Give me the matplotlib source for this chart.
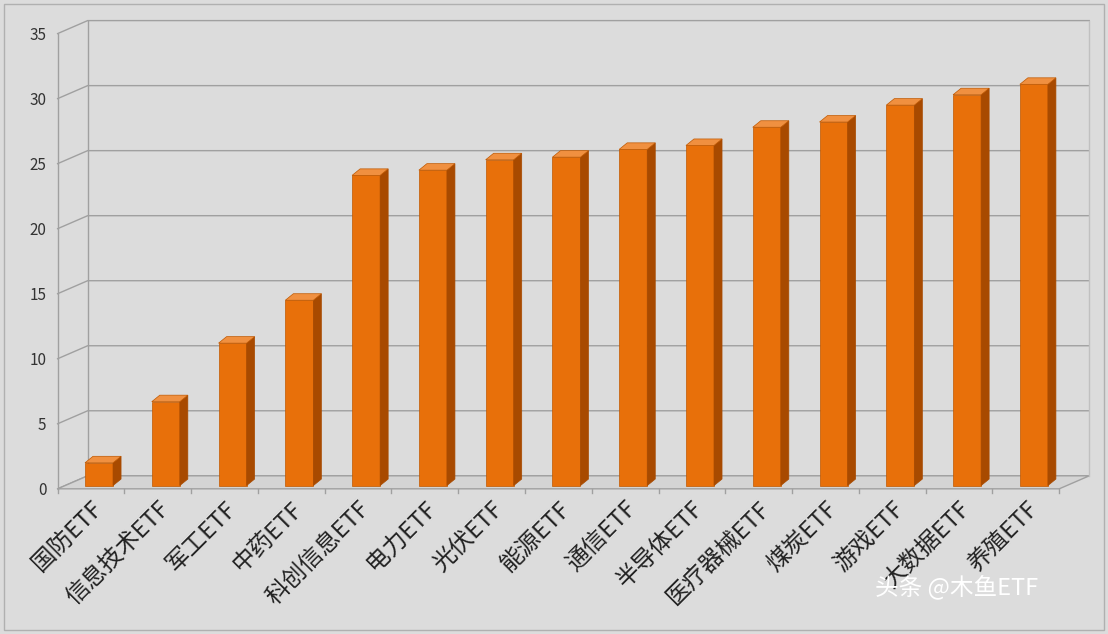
import matplotlib
matplotlib.use("Agg")
import matplotlib.pyplot as plt
from matplotlib.patches import Polygon

plt.rcParams['font.family'] = ['Noto Sans CJK SC', 'DejaVu Sans']

categories = ["国防ETF", "信息技术ETF", "军工ETF", "中药ETF", "科创信息ETF", "电力ETF", "光伏ETF",
              "能源ETF", "通信ETF", "半导体ETF", "医疗器械ETF", "煤炭ETF", "游戏ETF", "大数据ETF", "养殖ETF"]
values = [2.0, 6.7, 11.2, 14.5, 24.1, 24.5, 25.3, 25.5, 26.1, 26.4, 27.8, 28.2, 29.5, 30.3, 31.1]
yticks = [0, 5, 10, 15, 20, 25, 30, 35]

fig = plt.figure(figsize=(11.08, 6.34), dpi=100)
fig.patch.set_facecolor('#dcdcdc')
ax = fig.add_axes([0.052, 0.229, 0.904, 0.718])
ax.set_facecolor('none')
ax.set_xlim(-0.5, len(categories) - 0.5)
ax.set_ylim(0, 35)
for s in ax.spines.values():
    s.set_visible(False)

DX, DY = 0.45, 1.0
x0, x1 = -0.5, len(categories) - 0.5
ax.add_patch(Polygon([(x0, 0), (x1, 0), (x1 + DX, DY), (x0 + DX, DY)], closed=True,
                     facecolor='#d4d4d4', edgecolor='#a0a0a0', lw=1, clip_on=False, zorder=1))
for t in yticks:
    ax.plot([x0, x0 + DX, x1 + DX], [t, t + DY, t + DY], color='#a0a0a0', lw=1,
            clip_on=False, zorder=0.5)
ax.plot([x0, x0], [0, 35], color='#a0a0a0', lw=1, clip_on=False)
ax.plot([x0 + DX, x0 + DX], [DY, 35 + DY], color='#a0a0a0', lw=1, clip_on=False)
ax.plot([x1 + DX, x1 + DX], [DY, 35 + DY], color='#c0c0c0', lw=1, clip_on=False)
for i in range(len(categories) + 1):
    ax.plot([x0 + i, x0 + i], [0, -0.3], color='#a0a0a0', lw=1, clip_on=False)

w, bdx, bdy = 0.42, 0.12, 0.5
for i, v in enumerate(values):
    xl = i - w / 2 + 0.12
    xr = xl + w
    yb = 0.25
    ax.add_patch(Polygon([(xl, yb), (xr, yb), (xr, v), (xl, v)], facecolor='#e8700a',
                         edgecolor='#c05800', lw=0.5, zorder=3, clip_on=False))
    ax.add_patch(Polygon([(xr, yb), (xr + bdx, yb + bdy), (xr + bdx, v + bdy), (xr, v)],
                         facecolor='#a84a00', edgecolor='#a84a00', lw=0.5, zorder=3, clip_on=False))
    ax.add_patch(Polygon([(xl, v), (xr, v), (xr + bdx, v + bdy), (xl + bdx, v + bdy)],
                         facecolor='#f09040', edgecolor='#c05800', lw=0.5, zorder=3, clip_on=False))

ax.set_yticks(yticks)
ax.set_yticklabels([str(t) for t in yticks], fontsize=11, color='#333333')
ax.tick_params(axis='y', length=0, pad=8)
ax.set_xticks(range(len(categories)))
ax.set_xticklabels(categories, rotation=45, ha='right', rotation_mode='anchor',
                   fontsize=17, color='#222222')
ax.tick_params(axis='x', length=0, pad=6)

fig.text(0.79, 0.075, "头条 @木鱼ETF", fontsize=17, color='white', ha='left', va='center')
fig.add_artist(plt.Rectangle((0.004, 0.006), 0.992, 0.988, transform=fig.transFigure,
                             fill=False, edgecolor='#b0b0b0', lw=1))
fig.savefig("out.png", dpi=100, facecolor=fig.get_facecolor())
